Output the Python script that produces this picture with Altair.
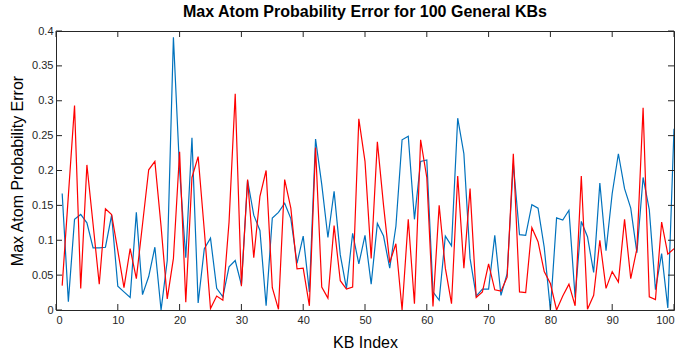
import altair as alt
import pandas as pd

kb_index = list(range(1, 101))

blue_err = [
    0.167, 0.012, 0.130, 0.137, 0.125, 0.089, 0.089, 0.090, 0.136, 0.034,
    0.026, 0.018, 0.140, 0.022, 0.048, 0.090, 0.000, 0.071, 0.391, 0.200,
    0.075, 0.247, 0.010, 0.088, 0.103, 0.031, 0.019, 0.062, 0.071, 0.036,
    0.186, 0.136, 0.114, 0.006, 0.132, 0.140, 0.153, 0.131, 0.067, 0.106,
    0.026, 0.245, 0.180, 0.104, 0.170, 0.079, 0.031, 0.110, 0.066, 0.107,
    0.037, 0.124, 0.106, 0.060, 0.120, 0.244, 0.249, 0.130, 0.213, 0.215,
    0.026, 0.014, 0.106, 0.092, 0.275, 0.224, 0.074, 0.020, 0.030, 0.030,
    0.107, 0.021, 0.052, 0.210, 0.108, 0.107, 0.151, 0.146, 0.090, 0.000,
    0.132, 0.129, 0.143, 0.018, 0.127, 0.105, 0.054, 0.182, 0.085, 0.167,
    0.224, 0.174, 0.146, 0.082, 0.190, 0.144, 0.029, 0.081, 0.003, 0.260,
]

red_err = [
    0.035, 0.164, 0.293, 0.031, 0.208, 0.123, 0.037, 0.145, 0.137, 0.085,
    0.032, 0.088, 0.045, 0.123, 0.201, 0.213, 0.120, 0.016, 0.074, 0.227,
    0.011, 0.190, 0.220, 0.114, 0.002, 0.020, 0.014, 0.126, 0.310, 0.034,
    0.187, 0.075, 0.163, 0.200, 0.032, 0.001, 0.187, 0.146, 0.059, 0.060,
    0.006, 0.233, 0.033, 0.017, 0.121, 0.042, 0.030, 0.033, 0.274, 0.213,
    0.074, 0.241, 0.150, 0.068, 0.095, 0.000, 0.130, 0.009, 0.244, 0.190,
    0.005, 0.150, 0.060, 0.009, 0.192, 0.060, 0.174, 0.018, 0.026, 0.066,
    0.029, 0.027, 0.047, 0.224, 0.026, 0.025, 0.118, 0.098, 0.055, 0.038,
    0.000, 0.020, 0.037, 0.006, 0.192, 0.001, 0.021, 0.100, 0.031, 0.055,
    0.040, 0.130, 0.045, 0.088, 0.290, 0.019, 0.015, 0.126, 0.080, 0.088,
]

x_ticks = list(range(0, 101, 10))
y_ticks = [0, 0.05, 0.1, 0.15, 0.2, 0.25, 0.3, 0.35, 0.4]

W, H = 618, 279
FONT = "Liberation Sans"
AX = "#262626"

df = pd.DataFrame({
    "KB": kb_index + kb_index,
    "err": blue_err + red_err,
    "series": ["A"] * len(blue_err) + ["B"] * len(red_err),
})

xs = alt.Scale(domain=[0, 100], nice=False)
ys = alt.Scale(domain=[0, 0.4], nice=False)
x_axis = alt.Axis(values=x_ticks, title="KB Index", labelPadding=4, titlePadding=9)
y_axis = alt.Axis(values=y_ticks, format="~g", title="Max Atom Probability Error",
                  labelPadding=3, titlePadding=6)

lines = alt.Chart(df).mark_line(strokeWidth=1.2, clip=True).encode(
    x=alt.X("KB:Q", scale=xs, axis=x_axis),
    y=alt.Y("err:Q", scale=ys, axis=y_axis),
    color=alt.Color("series:N",
                    scale=alt.Scale(domain=["A", "B"], range=["#0072BD", "#FF0000"]),
                    legend=None),
)

xt = pd.DataFrame({"t": x_ticks})
yt = pd.DataFrame({"t": y_ticks})
TL = 6

x_bottom = alt.Chart(xt).mark_rule(color=AX, strokeWidth=1).encode(
    x=alt.X("t:Q", scale=xs, axis=x_axis), y=alt.value(H), y2=alt.value(H - TL))
x_top = alt.Chart(xt).mark_rule(color=AX, strokeWidth=1).encode(
    x=alt.X("t:Q", scale=xs, axis=x_axis), y=alt.value(0), y2=alt.value(TL))
y_left = alt.Chart(yt).mark_rule(color=AX, strokeWidth=1).encode(
    y=alt.Y("t:Q", scale=ys, axis=y_axis), x=alt.value(0), x2=alt.value(TL))
y_right = alt.Chart(yt).mark_rule(color=AX, strokeWidth=1).encode(
    y=alt.Y("t:Q", scale=ys, axis=y_axis), x=alt.value(W), x2=alt.value(W - TL))

chart = alt.layer(lines, x_bottom, x_top, y_left, y_right).properties(
    width=W,
    height=H,
    background="white",
    title=alt.TitleParams(
        "Max Atom Probability Error for 100 General KBs",
        fontSize=16, fontWeight="bold", font=FONT, color="#000000",
        anchor="middle", offset=5,
    ),
    padding={"left": 56, "top": 31, "right": 12, "bottom": 46},
    autosize=alt.AutoSizeParams(type="none"),
).configure_view(
    stroke=AX, strokeWidth=1
).configure_axis(
    domain=False, ticks=False, grid=False,
    labelFont=FONT, labelFontSize=11, labelColor=AX,
    titleFont=FONT, titleFontSize=16, titleFontWeight="normal", titleColor="#000000",
)

chart.save("out.html", embed_options={"renderer": "svg", "actions": False})
